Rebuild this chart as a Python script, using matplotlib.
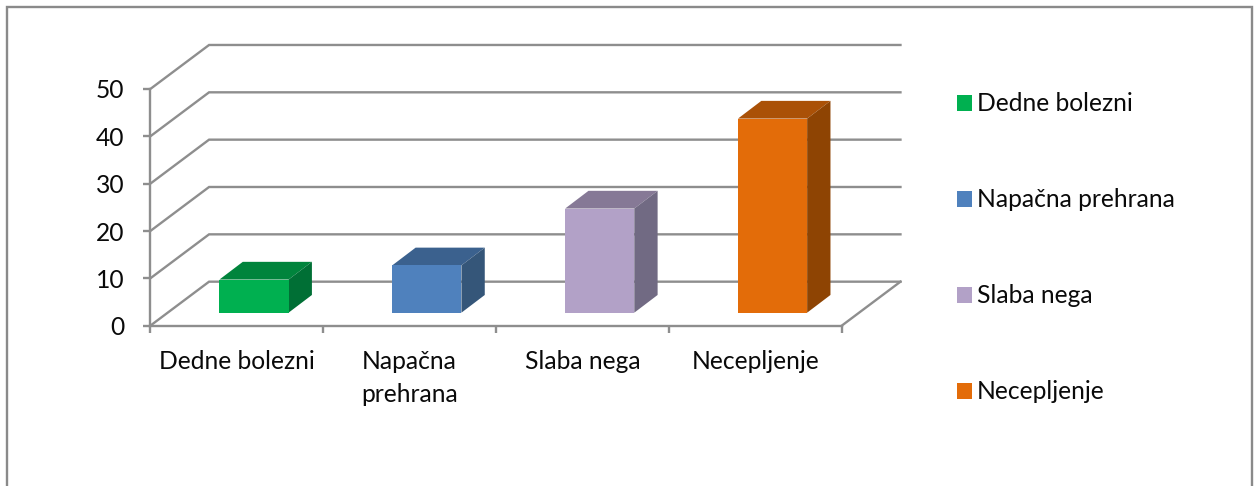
import matplotlib
matplotlib.use('Agg')
import matplotlib.pyplot as plt
from matplotlib.patches import Patch, Polygon, Rectangle

categories = ['Dedne bolezni', 'Napačna prehrana', 'Slaba nega', 'Necepljenje']
cat_labels = ['Dedne bolezni', 'Napačna\nprehrana', 'Slaba nega', 'Necepljenje']
values = [7, 10, 22, 41]
yticks = [0, 10, 20, 30, 40, 50]
front_colors = ['#00B050', '#4F81BD', '#B2A1C7', '#E36C09']
top_colors = ['#00843C', '#3B618E', '#867996', '#AA5107']
side_colors = ['#006F35', '#355679', '#716A83', '#8E4403']

W, H = 1254, 486
GRID = '#8E8E8E'
FS = 17.7
LW = 1.7
# wall depth and bar depth, in data units
WALL_DX, WALL_DY = 0.34, 9.3
BAR_DX, BAR_DY = 0.135, 3.74
BAR_W, BAR_SHIFT, BAR_LIFT = 0.40, 0.10, 2.75

plt.rcParams['font.family'] = ['Lato', 'DejaVu Sans']
fig = plt.figure(figsize=(W/100, H/100), dpi=100, facecolor='white')
ax = fig.add_axes([150.3/W, 1-325.7/H, (841.7-150.3)/W, (325.7-89)/H])
ax.set_xlim(0, 4); ax.set_ylim(0, 50); ax.patch.set_visible(False)
for s in ['top', 'right']: ax.spines[s].set_visible(False)
for s in ['left', 'bottom']: ax.spines[s].set_color(GRID); ax.spines[s].set_linewidth(LW)

n = len(categories)
# back wall and side wall gridlines
for t in yticks:
    ax.plot([0, WALL_DX, 4+WALL_DX], [t, t+WALL_DY, t+WALL_DY], color=GRID, lw=LW, clip_on=False, zorder=1, solid_joinstyle='miter')
ax.plot([4, 4+WALL_DX], [0, WALL_DY], color=GRID, lw=LW, clip_on=False, zorder=1)

xs = [i+0.5+BAR_SHIFT for i in range(n)]
ax.bar(xs, values, BAR_W, bottom=BAR_LIFT, color=front_colors, zorder=4, clip_on=False)
for x, v, tc, sc in zip(xs, values, top_colors, side_colors):
    l, r, b, t = x-BAR_W/2, x+BAR_W/2, BAR_LIFT, BAR_LIFT+v
    ax.add_patch(Polygon([(l, t), (r, t), (r+BAR_DX, t+BAR_DY), (l+BAR_DX, t+BAR_DY)], color=tc, lw=0, zorder=3, clip_on=False))
    ax.add_patch(Polygon([(r, b), (r+BAR_DX, b+BAR_DY), (r+BAR_DX, t+BAR_DY), (r, t)], color=sc, lw=0, zorder=3, clip_on=False))

ax.set_yticks(yticks)
ax.tick_params(axis='y', length=5, width=LW, color=GRID, labelsize=FS, labelcolor='#0A0A0A', pad=13.5)
ax.set_xticks(range(n+1), ['']*(n+1))
ax.tick_params(axis='x', length=5, width=LW, color=GRID)
ax.set_xticks([i+0.5 for i in range(n)], cat_labels, minor=True)
ax.tick_params(axis='x', which='minor', length=0, labelsize=FS, labelcolor='#0A0A0A', pad=17.5)
for lab in ax.get_xticklabels(minor=True):
    lab.set_linespacing(1.5)

handles = [Patch(facecolor=c, label=lb) for c, lb in zip(front_colors, categories)]
fig.legend(handles=handles, loc='upper left', bbox_to_anchor=(950/W, 1-85/H), frameon=False, fontsize=FS,
           labelcolor='#0A0A0A', handlelength=0.6, handleheight=0.6, handletextpad=0.2, labelspacing=2.97, borderpad=0.3, borderaxespad=0)

# chart frame runs off the bottom of the picture
fig.add_artist(Rectangle((6.5/W, -0.1), (1252-6.5)/W, 1.1-7/H, transform=fig.transFigure, fill=False, edgecolor='#8A8A8A', lw=1.7))
fig.savefig('out.png', dpi=100)
